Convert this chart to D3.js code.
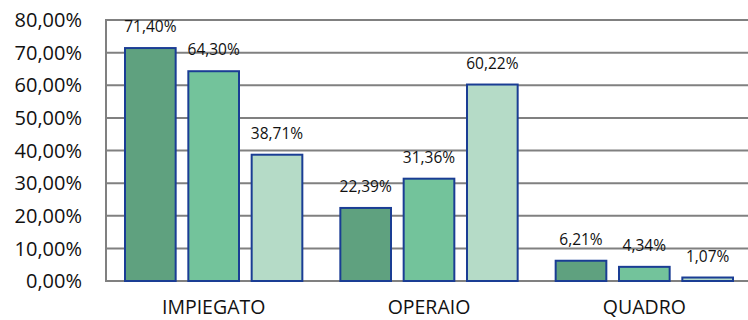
<!DOCTYPE html>
<html>
<head>
<meta charset="utf-8">
<script src="https://cdn.jsdelivr.net/npm/d3@7"></script>
<style>
  html, body { margin: 0; padding: 0; background: #ffffff; }
  svg { display: block; }
</style>
</head>
<body>
<svg id="chart" width="748" height="320"></svg>
<script>
// Job categories and the three series shown for each
const categories = ["IMPIEGATO", "OPERAIO", "QUADRO"];
const seriesNames = ["s1", "s2", "s3"];
const valuesS1 = [71.40, 22.39, 6.21];
const valuesS2 = [64.30, 31.36, 4.34];
const valuesS3 = [38.71, 60.22, 1.07];
const yTicks = [0, 10, 20, 30, 40, 50, 60, 70, 80];

const seriesValues = [valuesS1, valuesS2, valuesS3];
const colors = ["#5fa17f", "#73c39b", "#b5dbc7"];

const fmt = v => v.toFixed(2).replace(".", ",") + "%";

const svg = d3.select("#chart");
const plot = { left: 106, right: 752, top: 20, bottom: 281 };

const x0 = d3.scaleBand()
  .domain(categories)
  .range([plot.left, plot.right])
  .padding(0);

const x1 = d3.scaleBand()
  .domain(seriesNames)
  .range([0, x0.bandwidth()])
  .paddingInner(0.2)
  .paddingOuter(0.3);

const y = d3.scaleLinear()
  .domain([0, 80])
  .range([plot.bottom, plot.top]);

// Horizontal gridlines
svg.append("g")
  .selectAll("line")
  .data(yTicks)
  .join("line")
  .attr("x1", plot.left)
  .attr("x2", 748)
  .attr("y1", d => y(d))
  .attr("y2", d => y(d))
  .attr("stroke", "#808080")
  .attr("stroke-width", 2);

// Left axis line
svg.append("line")
  .attr("x1", plot.left)
  .attr("x2", plot.left)
  .attr("y1", y(80) - 1)
  .attr("y2", y(0) + 1)
  .attr("stroke", "#808080")
  .attr("stroke-width", 2);

// Y tick labels
svg.append("g")
  .selectAll("text")
  .data(yTicks)
  .join("text")
  .attr("x", 82)
  .attr("y", d => y(d))
  .attr("dy", "0.36em")
  .attr("text-anchor", "end")
  .attr("font-family", "'Open Sans', sans-serif")
  .attr("font-size", 20)
  .attr("fill", "#111")
  .text(d => d.toFixed(2).replace(".", ",") + "%");

// Bars
const groups = svg.append("g")
  .selectAll("g")
  .data(categories)
  .join("g")
  .attr("transform", d => `translate(${x0(d)},0)`);

const cells = groups.selectAll("g")
  .data((c, ci) => seriesNames.map((s, si) => ({ s, si, v: seriesValues[si][ci] })))
  .join("g");

cells.append("rect")
  .attr("x", d => x1(d.s))
  .attr("y", d => y(d.v))
  .attr("width", x1.bandwidth())
  .attr("height", d => y(0) - y(d.v))
  .attr("fill", d => colors[d.si])
  .attr("stroke", "#1a3d94")
  .attr("stroke-width", 2);

cells.append("text")
  .attr("x", d => x1(d.s) + x1.bandwidth() / 2)
  .attr("y", d => y(d.v) - 16)
  .attr("text-anchor", "middle")
  .attr("font-family", "'Open Sans', sans-serif")
  .attr("font-size", 15.5)
  .attr("fill", "#111")
  .text(d => fmt(d.v));

// Category labels
svg.append("g")
  .selectAll("text")
  .data(categories)
  .join("text")
  .attr("x", d => x0(d) + x0.bandwidth() / 2)
  .attr("y", 314)
  .attr("text-anchor", "middle")
  .attr("font-family", "'Open Sans', sans-serif")
  .attr("font-size", 19.5)
  .attr("fill", "#111")
  .text(d => d);
</script>
</body>
</html>
